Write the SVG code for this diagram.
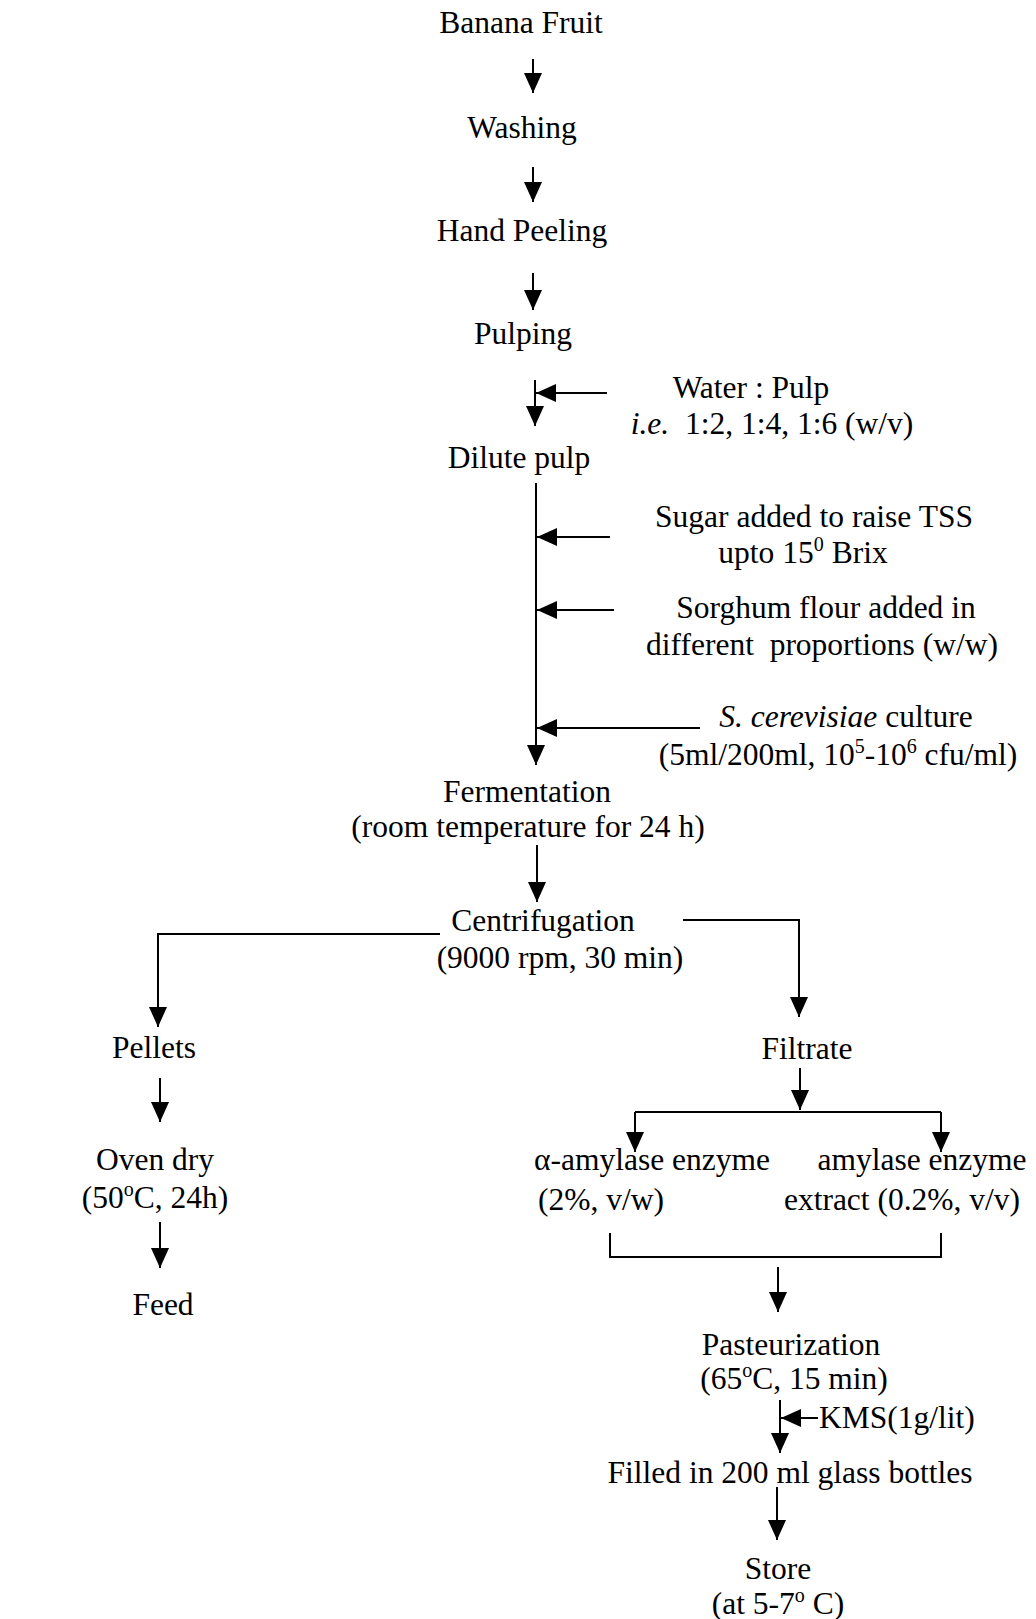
<svg xmlns="http://www.w3.org/2000/svg" width="1036" height="1619" viewBox="0 0 1036 1619">
<style>
text{font-family:"Liberation Serif","Times New Roman",serif;font-size:31.5px;fill:#000;text-anchor:middle;white-space:pre}
.st{text-anchor:start}
.sup{font-size:20px}
.c{fill:none;stroke:#000;stroke-width:2}
</style>
<defs>
<marker id="ah" viewBox="0 0 20 18" refX="20" refY="9" markerWidth="20" markerHeight="18" orient="auto" markerUnits="userSpaceOnUse"><path d="M0,0 L20,9 L0,18 Z" fill="#000"/></marker>
</defs>
<rect width="1036" height="1619" fill="#fff"/>
<g id="connectors">
<path class="c" d="M533,59 V93" marker-end="url(#ah)"/>
<path class="c" d="M533,167 V202" marker-end="url(#ah)"/>
<path class="c" d="M533,273 V310" marker-end="url(#ah)"/>
<path class="c" d="M535,380 V426" marker-end="url(#ah)"/>
<path class="c" d="M607,393 H536" marker-end="url(#ah)"/>
<path class="c" d="M536,483 V765" marker-end="url(#ah)"/>
<path class="c" d="M610,537 H537" marker-end="url(#ah)"/>
<path class="c" d="M614,610 H537" marker-end="url(#ah)"/>
<path class="c" d="M700,728 H537" marker-end="url(#ah)"/>
<path class="c" d="M537,845 V902" marker-end="url(#ah)"/>
<path class="c" d="M440,934 H158 V1027" marker-end="url(#ah)"/>
<path class="c" d="M683,920 H799 V1017" marker-end="url(#ah)"/>
<path class="c" d="M160,1078 V1122" marker-end="url(#ah)"/>
<path class="c" d="M800,1068 V1110" marker-end="url(#ah)"/>
<path class="c" d="M635,1112 H941"/>
<path class="c" d="M635,1112 V1152" marker-end="url(#ah)"/>
<path class="c" d="M941,1112 V1152" marker-end="url(#ah)"/>
<path class="c" d="M160,1222 V1268" marker-end="url(#ah)"/>
<path class="c" d="M610,1233 V1257 H941 V1233"/>
<path class="c" d="M778,1267 V1312" marker-end="url(#ah)"/>
<path class="c" d="M780,1400 V1453" marker-end="url(#ah)"/>
<path class="c" d="M818,1418 H781" marker-end="url(#ah)"/>
<path class="c" d="M777,1487 V1540" marker-end="url(#ah)"/>
</g>
<g id="n-banana"><text x="521" y="33">Banana Fruit</text></g>
<g id="n-washing"><text x="522" y="138">Washing</text></g>
<g id="n-peeling"><text x="522" y="241">Hand Peeling</text></g>
<g id="n-pulping"><text x="523" y="344">Pulping</text></g>
<g id="n-water"><text x="751" y="398">Water : Pulp</text><text x="772" y="434"><tspan font-style="italic">i.e.</tspan>  1:2, 1:4, 1:6 (w/v)</text></g>
<g id="n-dilute"><text x="519" y="468">Dilute pulp</text></g>
<g id="n-sugar"><text x="814" y="527">Sugar added to raise TSS</text><text x="803" y="563">upto 15<tspan class="sup" dy="-12">0</tspan><tspan dy="12"> Brix</tspan></text></g>
<g id="n-sorghum"><text x="826" y="618">Sorghum flour added in</text><text x="822" y="655">different  proportions (w/w)</text></g>
<g id="n-culture"><text x="846" y="727"><tspan font-style="italic">S. cerevisiae</tspan> culture</text><text x="838" y="765">(5ml/200ml, 10<tspan class="sup" dy="-12">5</tspan><tspan dy="12">-10</tspan><tspan class="sup" dy="-12">6</tspan><tspan dy="12"> cfu/ml)</tspan></text></g>
<g id="n-fermentation"><text x="527" y="802">Fermentation</text><text x="528" y="837">(room temperature for 24 h)</text></g>
<g id="n-centrifugation"><text x="543" y="931">Centrifugation</text><text x="560" y="968">(9000 rpm, 30 min)</text></g>
<g id="n-pellets"><text x="154" y="1058">Pellets</text></g>
<g id="n-filtrate"><text x="807" y="1059">Filtrate</text></g>
<g id="n-oven"><text x="155" y="1170">Oven dry</text><text x="155" y="1208">(50<tspan class="sup" dy="-12">o</tspan><tspan dy="12">C, 24h)</tspan></text></g>
<g id="n-feed"><text x="163" y="1315">Feed</text></g>
<g id="n-alpha"><text x="652" y="1170">α-amylase enzyme</text><text x="601" y="1210">(2%, v/w)</text></g>
<g id="n-extract"><text x="922" y="1170">amylase enzyme</text><text x="902" y="1210">extract (0.2%, v/v)</text></g>
<g id="n-pasteurization"><text x="791" y="1355">Pasteurization</text><text x="794" y="1389">(65<tspan class="sup" dy="-12">o</tspan><tspan dy="12">C, 15 min)</tspan></text></g>
<g id="n-kms"><text class="st" x="819" y="1428">KMS(1g/lit)</text></g>
<g id="n-filled"><text x="790" y="1483">Filled in 200 ml glass bottles</text></g>
<g id="n-store"><text x="778" y="1579">Store</text><text x="778" y="1614">(at 5-7<tspan class="sup" dy="-12">o</tspan><tspan dy="12"> C)</tspan></text></g>
</svg>
